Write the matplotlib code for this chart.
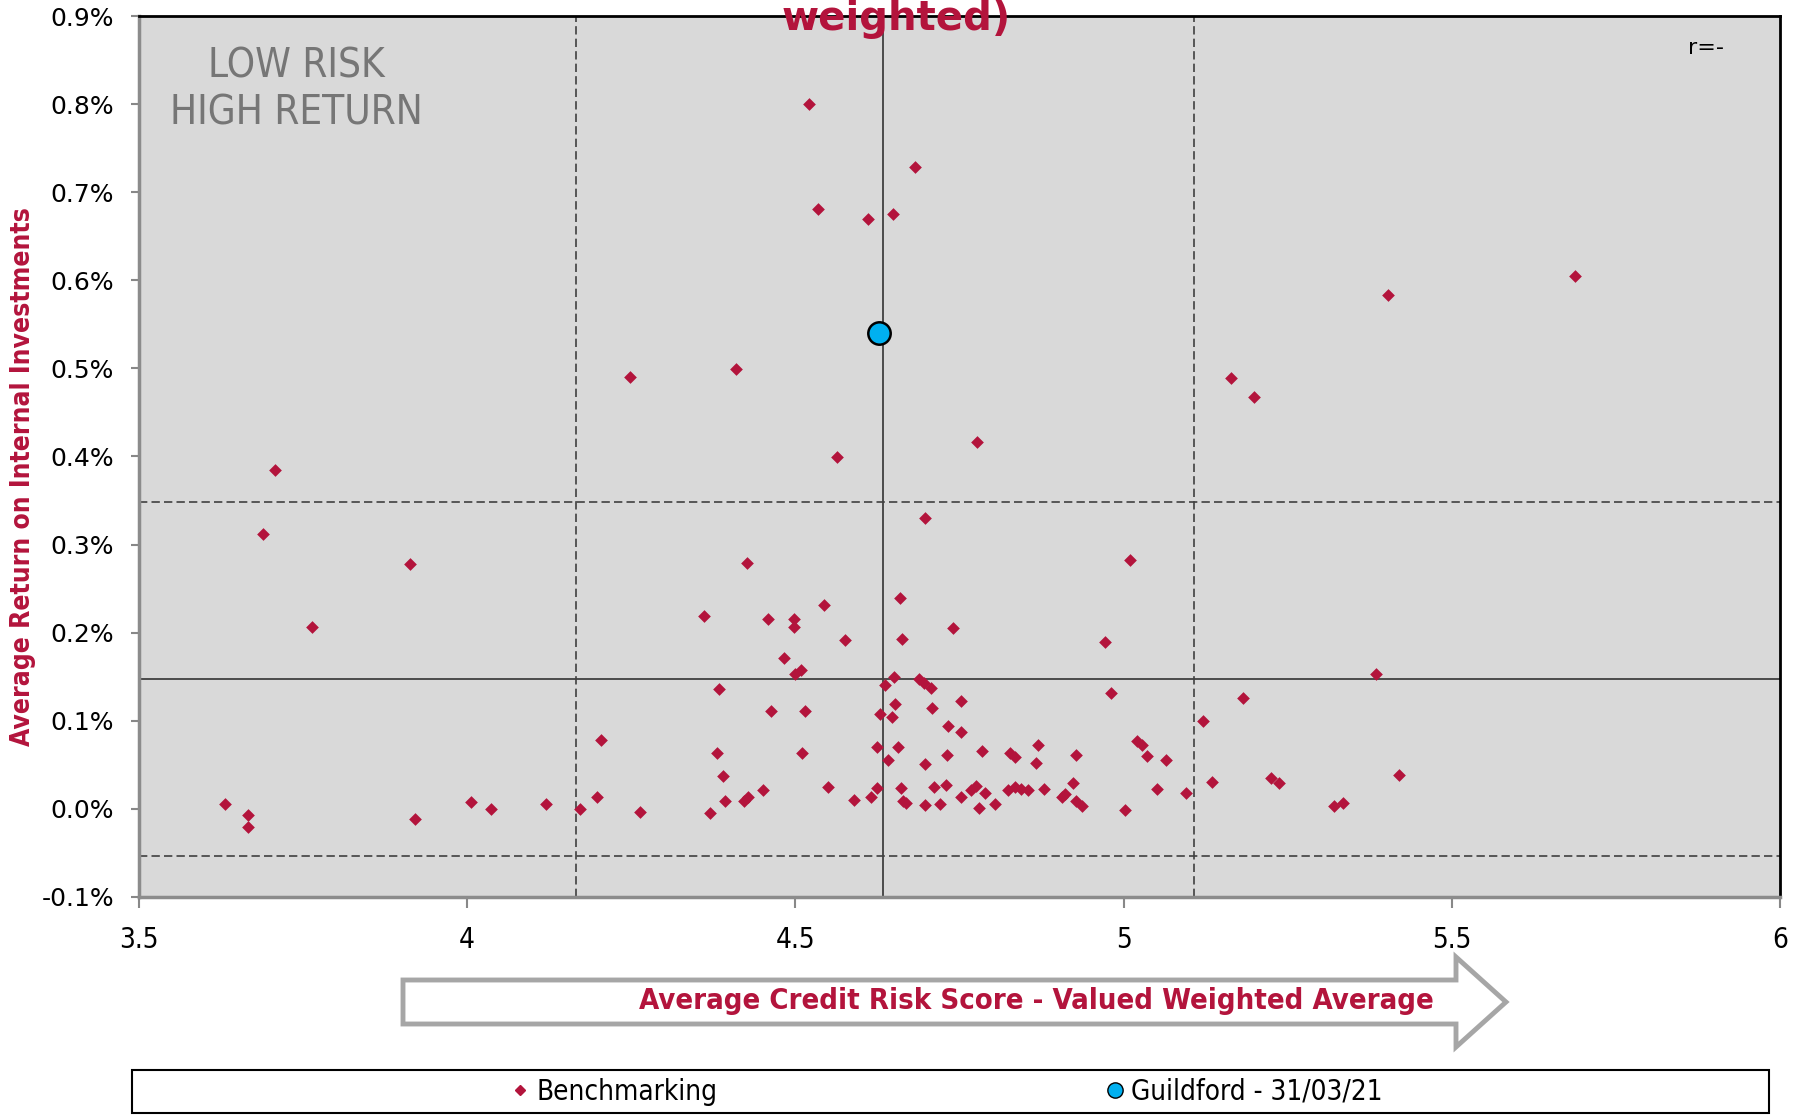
import numpy as np
import matplotlib
matplotlib.use("Agg")
import matplotlib.pyplot as plt
from matplotlib.patches import Polygon, Rectangle
from matplotlib.lines import Line2D
from matplotlib.ticker import FuncFormatter

# benchmark points: credit risk score, average return (%)
bench_x = [4.521, 4.682, 4.535, 4.610, 4.648, 5.688, 5.403, 4.409, 4.248, 5.163,
           5.198, 4.776, 4.564, 3.707, 3.689, 4.697, 3.913, 4.426, 5.009, 3.764,
           4.361, 4.543, 4.659, 4.459, 4.498, 4.498, 4.740, 4.575, 4.662, 4.972,
           4.482, 4.508, 4.500, 4.650, 5.384, 4.636, 4.689, 4.696, 4.706, 4.384,
           4.981, 5.182, 4.753, 4.463, 4.515, 4.629, 4.647, 4.652, 4.708, 4.733,
           4.753, 5.121, 4.204, 4.624, 4.657, 4.785, 4.869, 5.021, 5.028, 5.035,
           4.381, 4.510, 4.641, 4.697, 4.731, 4.827, 4.834, 4.866, 4.928, 5.065,
           5.224, 5.237, 5.420, 5.135, 4.389, 4.451, 4.550, 4.624, 4.661, 4.711,
           4.729, 4.768, 4.775, 4.789, 4.824, 4.834, 4.843, 4.855, 4.878, 4.923,
           5.051, 5.095, 4.197, 4.393, 4.421, 4.428, 4.589, 4.615, 4.664, 4.669,
           4.697, 4.720, 4.752, 4.780, 4.804, 4.906, 4.911, 4.928, 4.936, 5.002,
           5.321, 5.335, 3.631, 3.666, 3.666, 3.920, 4.006, 4.037, 4.120, 4.172,
           4.263, 4.370]
bench_y = [0.800, 0.729, 0.681, 0.670, 0.675, 0.605, 0.583, 0.499, 0.490, 0.489,
           0.467, 0.417, 0.399, 0.385, 0.312, 0.330, 0.278, 0.279, 0.282, 0.206,
           0.219, 0.232, 0.239, 0.215, 0.215, 0.207, 0.205, 0.192, 0.193, 0.190,
           0.171, 0.158, 0.153, 0.150, 0.153, 0.141, 0.147, 0.143, 0.137, 0.136,
           0.132, 0.126, 0.123, 0.111, 0.111, 0.108, 0.104, 0.119, 0.115, 0.094,
           0.087, 0.100, 0.078, 0.070, 0.070, 0.066, 0.073, 0.077, 0.073, 0.060,
           0.063, 0.064, 0.056, 0.051, 0.061, 0.063, 0.059, 0.052, 0.061, 0.056,
           0.035, 0.029, 0.039, 0.030, 0.037, 0.021, 0.025, 0.024, 0.024, 0.025,
           0.027, 0.021, 0.026, 0.018, 0.021, 0.025, 0.023, 0.021, 0.023, 0.029,
           0.023, 0.018, 0.013, 0.009, 0.009, 0.013, 0.010, 0.014, 0.009, 0.007,
           0.004, 0.005, 0.014, 0.001, 0.005, 0.013, 0.017, 0.009, 0.003, -0.001,
           0.003, 0.007, 0.005, -0.007, -0.021, -0.012, 0.008, 0.000, 0.005, 0.000,
           -0.004, -0.005]

guildford_x = [4.627]
guildford_y = [0.540]

# quadrant lines
v_dashed = [4.165, 5.107]
v_solid = 4.633
h_dashed = [0.348, -0.053]
h_solid = 0.148

xticks = [3.5, 4, 4.5, 5, 5.5, 6]
xtick_labels = ["3.5", "4", "4.5", "5", "5.5", "6"]
yticks = [-0.1, 0.0, 0.1, 0.2, 0.3, 0.4, 0.5, 0.6, 0.7, 0.8, 0.9]

crimson = "#B3143C"
W, H = 1802, 1116

fig = plt.figure(figsize=(W / 100, H / 100), dpi=100)
ax = fig.add_axes([139 / W, 1 - 897 / H, (1780 - 139) / W, (897 - 16) / H])
ax.set_facecolor("#D9D9D9")

for v in v_dashed:
    ax.axvline(v, color="#404040", lw=1.2, ls=(0, (5, 2.5)), zorder=1)
ax.axvline(v_solid, color="#404040", lw=1.3, zorder=1)
for h in h_dashed:
    ax.axhline(h, color="#404040", lw=1.2, ls=(0, (5, 2.5)), zorder=1)
ax.axhline(h_solid, color="#404040", lw=1.3, zorder=1)

ax.scatter(bench_x, bench_y, marker="D", s=42, color=crimson, lw=0, zorder=3)
ax.scatter(guildford_x, guildford_y, marker="o", s=260, color="#00B0F0",
           edgecolor="black", lw=1.8, zorder=4)

ax.set_xlim(3.5, 6)
ax.set_ylim(-0.1, 0.9)
ax.set_xticks(xticks)
ax.set_xticklabels(xtick_labels, fontstretch="condensed")
ax.set_yticks(yticks)
ax.yaxis.set_major_formatter(FuncFormatter(lambda v, p: "%.1f%%" % v))
ax.tick_params(axis="x", direction="out", length=8, width=1.5, color="#888888",
               labelsize=20, pad=13)
ax.tick_params(axis="y", direction="out", length=6, width=1.5, color="#888888",
               labelsize=18, pad=12)

for side in ["top", "right"]:
    ax.spines[side].set_color("black")
    ax.spines[side].set_linewidth(2)
for side in ["left", "bottom"]:
    ax.spines[side].set_color("#8C8C8C")
    ax.spines[side].set_linewidth(2.5)

ax.text(0.096, 0.916, "LOW RISK\nHIGH RETURN", transform=ax.transAxes,
        ha="center", va="center", fontsize=29, color="#767676",
        linespacing=1.2, fontstretch="condensed")
ax.text(0.9657, 0.9635, "r=-", transform=ax.transAxes, ha="right",
        va="center", fontsize=16, color="black")

# partially visible title line
fig.text(896 / W, 1 - 30 / H, "weighted)", ha="center", va="baseline",
         fontsize=29, fontweight="bold", color=crimson)

fig.text(23 / W, 1 - 477 / H, "Average Return on Internal Investments",
         rotation=90, ha="center", va="center", fontsize=19,
         fontweight="bold", color=crimson, fontstretch="condensed")

# block arrow under the x axis
arrow_pts = [(403, 980), (1456, 980), (1456, 957), (1506, 1002),
             (1456, 1047), (1456, 1024), (403, 1024)]
arrow = Polygon([(x / W, 1 - y / H) for x, y in arrow_pts], closed=True,
                transform=fig.transFigure, facecolor="white",
                edgecolor="#A6A6A6", lw=3.5)
fig.patches.append(arrow)
fig.text(1036 / W, 1 - 1001 / H,
         "Average Credit Risk Score - Valued Weighted Average",
         ha="center", va="center", fontsize=21, fontweight="bold",
         color=crimson, fontstretch="condensed")

# legend box
frame = Rectangle((132 / W, 1 - 1113 / H), (1769 - 132) / W, (1113 - 1070) / H,
                  transform=fig.transFigure, facecolor="white",
                  edgecolor="black", lw=1.5)
fig.patches.append(frame)
handles = [Line2D([], [], marker="D", ls="none", color=crimson, markersize=5.5),
           Line2D([], [], marker="o", ls="none", color="#00B0F0",
                  markeredgecolor="black", markersize=11)]
fig.legend(handles, ["Benchmarking", "Guildford - 31/03/21"], loc="center",
           bbox_to_anchor=(947 / W, 1 - 1092 / H), ncol=2, frameon=False,
           prop=dict(size=20, stretch="condensed"), handlelength=0.6,
           handletextpad=0.3, columnspacing=14)

fig.savefig("out.png", dpi=100)
